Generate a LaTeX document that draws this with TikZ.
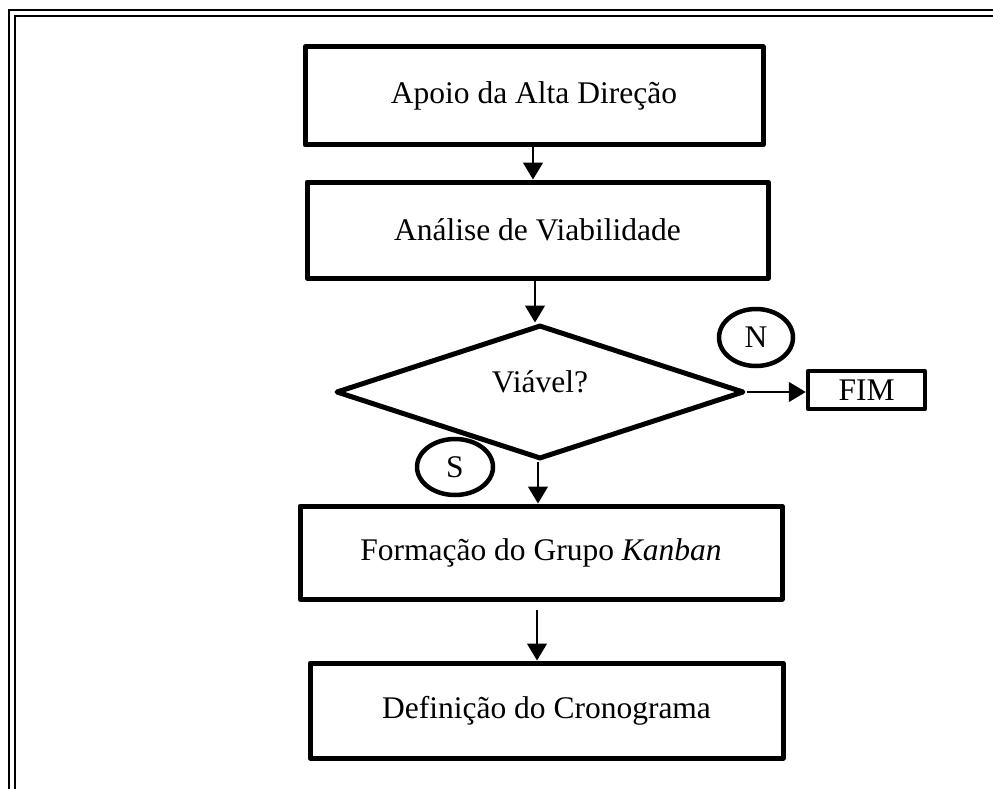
\documentclass[tikz,border=0pt]{standalone}
\usepackage{fontspec}
\setmainfont{Liberation Serif}
\usetikzlibrary{shapes.geometric,arrows.meta}
\begin{document}
\begin{tikzpicture}[x=1pt,y=-1pt,
  every node/.style={font=\fontsize{31.5}{36}\selectfont},
  stepbox/.style={draw,line width=5pt,line join=round,inner sep=0pt},
  tag/.style={draw,ellipse,line width=4.5pt,inner sep=0pt},
  arr/.style={line width=1.5pt,-{Triangle[width=20pt,length=17pt]}},
  framel/.style={line width=2pt}]
\useasboundingbox (0,0) rectangle (993,789);
\begin{scope}
\clip (0,0) rectangle (993,789);
\draw[framel] (9,10) rectangle (1020,820);
\draw[framel] (15,16) rectangle (1010,810);
\end{scope}
\node[stepbox,minimum width=458pt,minimum height=98pt] (b1) at (534,96) {Apoio da Alta Direção};
\node[stepbox,minimum width=461pt,minimum height=96pt] (b2) at (537.5,230) {Análise de Viabilidade};
\node[draw,diamond,line width=5pt,line join=round,inner sep=0pt,minimum width=408pt,minimum height=134pt] (d) at (540,392) {};
\node (dt) at (540,382) {Viável?};
\node[stepbox,line width=4.5pt,minimum width=117pt,minimum height=38pt] (fim) at (866.5,390) {FIM};
\node[tag,minimum width=74pt,minimum height=57pt] (n) at (756,337.5) {N};
\node[tag,minimum width=76pt,minimum height=56pt] (s) at (455,467) {S};
\node[stepbox,minimum width=482pt,minimum height=93pt] (b3) at (541,552.5) {Formação do Grupo \textit{Kanban}};
\node[stepbox,minimum width=473pt,minimum height=95pt] (b4) at (546.5,710.5) {Definição do Cronograma};
\draw[arr] ([xshift=-1pt]b1.south) -- ([xshift=-1pt]b1.south |- b2.north);
\draw[arr] ([xshift=-2.5pt]b2.south) -- ([xshift=-2.5pt]b2.south |- d.north);
\draw[arr] ([xshift=-2pt]d.south) -- ([xshift=-2pt]d.south |- b3.north);
\draw[arr,shorten <=8pt] ([xshift=-4pt]b3.south) -- ([xshift=-4pt]b3.south |- b4.north);
\draw[arr] (d.east) -- (d.east -| fim.west);
\end{tikzpicture}
\end{document}
